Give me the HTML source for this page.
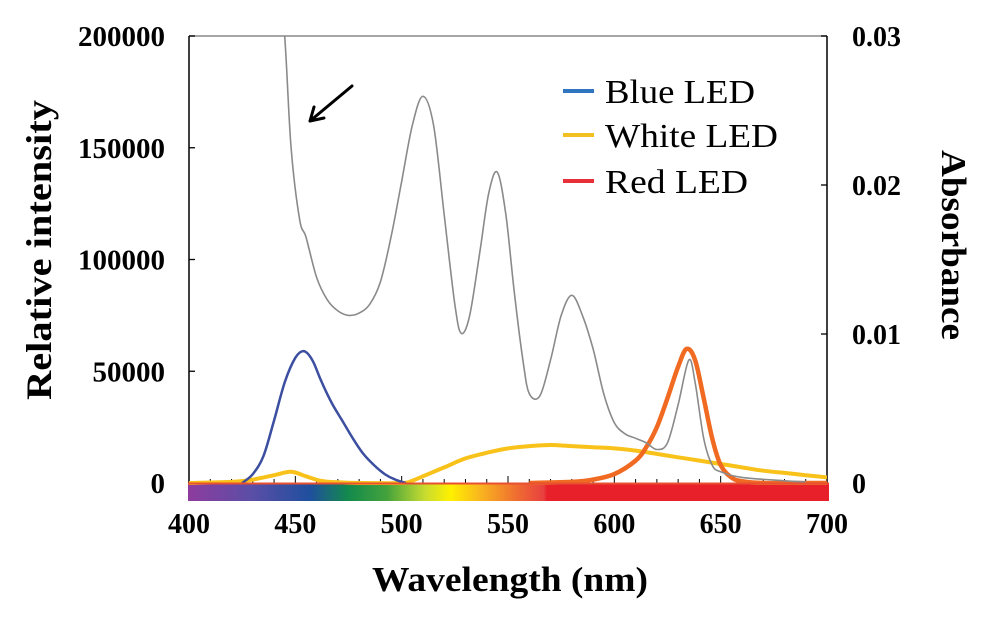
<!DOCTYPE html>
<html><head><meta charset="utf-8"><style>
html,body{margin:0;padding:0;background:#fff;}
svg{display:block;font-family:"Liberation Serif",serif;}
</style></head><body>
<svg id="chart" width="992" height="624" viewBox="0 0 992 624" xmlns="http://www.w3.org/2000/svg">
<defs>
<linearGradient id="spec" x1="188" x2="829" y1="0" y2="0" gradientUnits="userSpaceOnUse">
<stop offset="0" stop-color="#8e3c9e"/>
<stop offset="0.1" stop-color="#5a4ea6"/>
<stop offset="0.19" stop-color="#1f4f9e"/>
<stop offset="0.25" stop-color="#138a4c"/>
<stop offset="0.31" stop-color="#44a23c"/>
<stop offset="0.37" stop-color="#c8dc30"/>
<stop offset="0.41" stop-color="#fff000"/>
<stop offset="0.46" stop-color="#f8b020"/>
<stop offset="0.51" stop-color="#f07030"/>
<stop offset="0.555" stop-color="#e84040"/>
<stop offset="0.56" stop-color="#e8202a"/>
<stop offset="1" stop-color="#e8202a"/>
</linearGradient>
</defs>
<g id="plot"></g>
</svg>
<script>
const grayWl = [440,445,448,452,455,460,465,470,475,480,485,490,495,500,505,510,515,520,525,528,532,537,541,545,549,553,557,560,565,570,575,580,585,590,595,600,605,610,615,620,625,630,635,638,642,646,650,660,680,690];
const grayVal = [260000,200000,150000,118000,110000,92000,82000,77000,75000,76000,80000,90000,110000,135000,160000,173000,160000,120000,80000,67000,75000,105000,130000,139000,120000,85000,55000,40000,39000,55000,75000,84000,75000,60000,40000,27000,22000,20000,18000,15000,18000,35000,55000,45000,20000,8000,5000,2500,1000,500];
const blueWl = [425,430,435,440,445,450,454,458,462,467,472,477,482,487,492,497,502];
const blueVal = [0,4000,12000,28000,45000,56000,59000,55000,46000,36000,28000,20000,13000,8000,4000,1500,0];
const whiteWl = [400,420,430,440,448,455,462,470,480,500,505,510,520,530,540,550,560,570,580,590,600,610,620,630,640,650,660,670,680,690,700];
const whiteVal = [0,500,1500,3500,5000,3000,1000,300,0,0,1000,3000,7000,11000,13500,15500,16500,17000,16500,16000,15500,14500,13000,11500,10000,8500,7000,5500,4500,3500,2500];
const redWl = [560,580,590,600,610,615,620,625,630,634,638,642,646,650,655,660,670,700];
const redVal = [0,500,1500,4000,10000,16000,25000,38000,52000,60000,55000,38000,20000,8000,2500,800,0,0];
const leftTicks = [0,50000,100000,150000,200000];
const rightTicks = [0,0.01,0.02,0.03];
const rightTickLabels = ["0","0.01","0.02","0.03"];
const xTicks = [400,450,500,550,600,650,700];

const X0=189,X1=827,Y0=483,Y1=36;
const sx = w => X0 + (w-400)/300*(X1-X0);
const sy = v => Y0 - v/200000*(Y0-Y1);
const sy2 = v => Y0 - v/0.03*(Y0-Y1);
const NS="http://www.w3.org/2000/svg";
const g=document.getElementById('plot');
function mk(tag,attrs,parent){const e=document.createElementNS(NS,tag);for(const k in attrs)e.setAttribute(k,attrs[k]);(parent||g).appendChild(e);return e;}

// smooth path through points (Catmull-Rom)
function smooth(pts){
  let d='M'+pts[0][0].toFixed(1)+','+pts[0][1].toFixed(1);
  for(let i=0;i<pts.length-1;i++){
    const p0=pts[i-1]||pts[i],p1=pts[i],p2=pts[i+1],p3=pts[i+2]||p2;
    const c1=[p1[0]+(p2[0]-p0[0])/6,p1[1]+(p2[1]-p0[1])/6];
    const c2=[p2[0]-(p3[0]-p1[0])/6,p2[1]-(p3[1]-p1[1])/6];
    d+=`C${c1[0].toFixed(1)},${c1[1].toFixed(1)} ${c2[0].toFixed(1)},${c2[1].toFixed(1)} ${p2[0].toFixed(1)},${p2[1].toFixed(1)}`;
  }
  return d;
}

const cp=mk('clipPath',{id:'clip'});mk('rect',{x:X0,y:Y1,width:X1-X0,height:Y0-Y1+2},cp);

const bar=mk('rect',{x:188,y:484,width:641,height:17,fill:'url(#spec)'});



const fr=mk('path',{d:`M${X0},${Y1}H${X1}`,stroke:'#888',fill:'none','stroke-width':1.5});


const la=mk('path',{d:`M${X0},${Y1}V${Y0}`,stroke:'#000','stroke-width':1.5});


const ra=mk('path',{d:`M${X1},${Y1}V${Y0}`,stroke:'#000','stroke-width':1.5});



leftTicks.forEach(v=>{
  mk('path',{d:`M${X0},${sy(v)}h6`,stroke:'#000','stroke-width':1.3});
  const t=mk('text',{x:165,y:sy(v)+10,'text-anchor':'end','font-size':29,'font-weight':'bold'});
  t.textContent=v;
  
  
});
rightTicks.forEach((v,i)=>{
  mk('path',{d:`M${X1},${sy2(v)}h-6`,stroke:'#000','stroke-width':1.3});
  const t=mk('text',{x:852,y:sy2(v)+10,'font-size':28,'font-weight':'bold'});
  t.textContent=rightTickLabels[i];
  
  
});
for(let w=410;w<700;w+=10){mk('path',{d:`M${sx(w)},${Y0}v-${w%50===0?7:4}`,stroke:'#000','stroke-width':1});}
xTicks.forEach(w=>{
  const t=mk('text',{x:sx(w),y:533,'text-anchor':'middle','font-size':28,'font-weight':'bold'});
  t.textContent=w;
  
  
});

function line(wl,val,color,width,name){
  const d=smooth(wl.map((w,i)=>[sx(w),sy(val[i])]));
  const p=mk('path',{d,stroke:color,'stroke-width':width,fill:'none','stroke-linejoin':'round','clip-path':'url(#clip)'});
  
  
}
line(whiteWl,whiteVal,'#f8c21a',4,'white-led-line');
line(blueWl,blueVal,'#3b4ea0',2.5,'blue-led-line');
line(redWl,redVal,'#f06a22',4.5,'red-led-line');
line(grayWl,grayVal,'#8a8a8a',1.6,'absorbance-line');

const bl=mk('path',{d:`M188,${Y0+0.5}H829`,stroke:'#e85030','stroke-width':2});



const ar=mk('path',{d:'M352,86L310,121M310,121l4,-14M310,121l14,-3',stroke:'#000','stroke-width':3,fill:'none','stroke-linecap':'round'});



[['Blue LED','#2f75c0',91,150],['White LED','#f2c020',135,173],['Red LED','#e8303a',181,143]].forEach(([n,c,y,L])=>{
  const lg=mk('g',{});
  
  
  mk('path',{d:`M563,${y}h31`,stroke:c,'stroke-width':4},lg);
  const t=mk('text',{x:605,y:y+12,'font-size':34,textLength:L,lengthAdjust:'spacingAndGlyphs'},lg);t.textContent=n;
});

const xt=mk('text',{x:510,y:591,'text-anchor':'middle','font-size':35,'font-weight':'bold',textLength:276,lengthAdjust:'spacingAndGlyphs'});
xt.textContent='Wavelength (nm)';


const yt=mk('text',{x:0,y:0,'text-anchor':'middle','font-size':36,'font-weight':'bold',textLength:300,lengthAdjust:'spacingAndGlyphs',transform:'translate(51,250) rotate(-90)'});
yt.textContent='Relative intensity';


const y2=mk('text',{x:0,y:0,'text-anchor':'middle','font-size':35,'font-weight':'bold',textLength:190,lengthAdjust:'spacingAndGlyphs',transform:'translate(942,245) rotate(90)'});
y2.textContent='Absorbance';


</script>
</body></html>
